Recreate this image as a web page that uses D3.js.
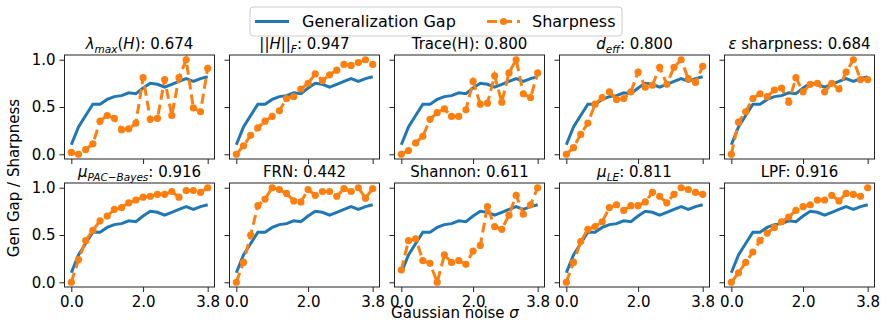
<!DOCTYPE html>
<html lang="en">
<head>
<meta charset="utf-8">
<title>Gen gap vs sharpness</title>
<style>
  body {margin: 0; background: #fff; font-family: "DejaVu Sans", sans-serif;}
  svg  {display: block;}
  .frame {fill: none; stroke: #222; stroke-width: 1;}
  .axis text {font-family: "DejaVu Sans", sans-serif; font-size: 15px; fill: #000;}
  .axis path {display: none;}
  .axis line {stroke: #222;}
  .gap  {fill: none; stroke: #1f77b4; stroke-width: 3;}
  .sharp {fill: none; stroke: #ff7f0e; stroke-width: 3; stroke-dasharray: 10,5;}
  .dot  {fill: #ff7f0e;}
</style>
</head>
<body>
<svg id="chart" width="888" height="330"></svg>

<script src="https://cdn.jsdelivr.net/npm/d3@7"></script>
<script>
// noise levels on the x axis
const noiseLevels = [0.0, 0.2, 0.4, 0.6, 0.8, 1.0, 1.2, 1.4, 1.6, 1.8,
                     2.0, 2.2, 2.4, 2.6, 2.8, 3.0, 3.2, 3.4, 3.6, 3.8];

// generalization gap (same in every panel)
const genGap = [0.10, 0.29, 0.41, 0.53, 0.53, 0.58, 0.61, 0.62, 0.65, 0.64,
                0.70, 0.75, 0.74, 0.71, 0.74, 0.77, 0.80, 0.77, 0.80, 0.82];

// normalised sharpness per measure
const lambdaMax = [0.02, 0.00, 0.05, 0.11, 0.35, 0.41, 0.38, 0.26, 0.27, 0.33,
                   0.81, 0.37, 0.38, 0.79, 0.41, 0.81, 1.00, 0.49, 0.45, 0.91];
const frobenius = [0.00, 0.09, 0.20, 0.28, 0.35, 0.40, 0.46, 0.59, 0.61, 0.69,
                   0.75, 0.85, 0.78, 0.84, 0.89, 0.95, 0.94, 0.97, 1.00, 0.95];
const traceH    = [0.00, 0.04, 0.12, 0.19, 0.37, 0.44, 0.48, 0.40, 0.40, 0.47,
                   0.77, 0.53, 0.54, 0.83, 0.55, 0.86, 1.00, 0.64, 0.60, 0.86];
const dEff      = [0.00, 0.07, 0.21, 0.33, 0.53, 0.60, 0.66, 0.58, 0.59, 0.66,
                   0.87, 0.71, 0.73, 0.92, 0.74, 0.92, 1.00, 0.80, 0.76, 0.93];
const epsSharp  = [0.00, 0.34, 0.45, 0.59, 0.64, 0.61, 0.68, 0.70, 0.55, 0.81,
                   0.66, 0.74, 0.75, 0.66, 0.75, 0.69, 0.87, 1.00, 0.79, 0.79];
const pacBayes  = [0.00, 0.24, 0.44, 0.55, 0.65, 0.70, 0.77, 0.79, 0.84, 0.87,
                   0.90, 0.91, 0.93, 0.93, 0.96, 0.90, 0.97, 0.97, 0.95, 1.00];
const frn       = [0.00, 0.21, 0.50, 0.81, 0.88, 1.00, 0.98, 0.94, 0.86, 0.85,
                   0.98, 0.92, 0.96, 0.96, 0.91, 0.99, 0.96, 1.00, 0.89, 0.99];
const shannon   = [0.13, 0.44, 0.46, 0.23, 0.20, 0.00, 0.29, 0.21, 0.23, 0.19,
                   0.33, 0.39, 0.80, 0.59, 0.56, 0.71, 0.92, 0.72, 0.82, 1.00];
const muLE      = [0.00, 0.21, 0.43, 0.56, 0.59, 0.64, 0.79, 0.82, 0.76, 0.81,
                   0.81, 0.85, 0.95, 0.91, 0.84, 0.93, 1.00, 0.98, 0.95, 0.93];
const lpf       = [0.00, 0.10, 0.21, 0.32, 0.44, 0.52, 0.58, 0.64, 0.69, 0.76,
                   0.80, 0.82, 0.87, 0.87, 0.92, 0.86, 0.94, 0.93, 0.91, 1.00];

const sharpSeries = [lambdaMax, frobenius, traceH, dEff, epsSharp,
                     pacBayes, frn, shannon, muLE, lpf];

// panel titles: [text, style] segments, i = italic, sub = italic subscript
const metricNames = [
  [["λ", "i"], ["max", "sub"], ["(", "n"], ["H", "i"], [")", "n"]],
  [["||", "n"], ["H", "i"], ["||", "n"], ["F", "sub"]],
  [["Trace(H)", "n"]],
  [["d", "i"], ["eff", "sub"]],
  [["ε", "i"], [" sharpness", "n"]],
  [["μ", "i"], ["PAC−Bayes", "sub"]],
  [["FRN", "n"]],
  [["Shannon", "n"]],
  [["μ", "i"], ["LE", "sub"]],
  [["LPF", "n"]]
];
const metricScores = [0.674, 0.947, 0.800, 0.800, 0.684, 0.916, 0.442, 0.611, 0.811, 0.916];

const xTicks = [0.0, 2.0, 3.8];
const yTicks = [0.0, 0.5, 1.0];
const seriesNames = ["Generalization Gap", "Sharpness"];

const svg = d3.select("#chart");
const panelW = 150, panelH = 104;
const colLeft = [64.5, 229.5, 394.5, 559.5, 724.5];
const rowTop = [55, 183];

// matplotlib-like 5% margins
const x = d3.scaleLinear().domain([-0.19, 3.99]).range([0, panelW]);
const y = d3.scaleLinear().domain([-0.05, 1.05]).range([panelH, 0]);
const fmt = d3.format(".1f");

const gapLine = d3.line().x((d, i) => x(noiseLevels[i])).y(d => y(d));

sharpSeries.forEach((vals, k) => {
  const row = Math.floor(k / 5), col = k % 5;
  const g = svg.append("g").attr("transform", `translate(${colLeft[col]},${rowTop[row]})`);

  g.append("g").attr("class", "axis")
    .attr("transform", `translate(0,${panelH})`)
    .call(d3.axisBottom(x).tickValues(xTicks).tickSize(5).tickPadding(4)
      .tickFormat(row === 1 ? fmt : () => ""));
  g.append("g").attr("class", "axis")
    .call(d3.axisLeft(y).tickValues(yTicks).tickSize(5).tickPadding(4)
      .tickFormat(col === 0 ? fmt : () => ""));

  g.append("path").datum(genGap).attr("class", "gap").attr("d", gapLine);
  g.append("path").datum(vals).attr("class", "sharp").attr("d", gapLine);
  g.selectAll("circle").data(vals).join("circle")
    .attr("class", "dot")
    .attr("cx", (d, i) => x(noiseLevels[i]))
    .attr("cy", d => y(d))
    .attr("r", 3.6);

  g.append("rect").attr("class", "frame").attr("width", panelW).attr("height", panelH);

  // title with mathtext-ish subscripts
  const t = g.append("text")
    .attr("x", panelW / 2).attr("y", -6)
    .attr("text-anchor", "middle")
    .attr("font-size", 15);
  let prevSub = false;
  metricNames[k].forEach(([s, st]) => {
    const ts = t.append("tspan").text(s);
    if (st === "i" || st === "sub") ts.attr("font-style", "italic");
    if (st === "sub") {
      ts.attr("font-size", 10.5);
      if (!prevSub) ts.attr("dy", 3.5);
    } else if (prevSub) ts.attr("dy", -3.5);
    prevSub = st === "sub";
  });
  t.append("tspan").attr("dy", prevSub ? -3.5 : 0).text(": " + metricScores[k].toFixed(3));
});

// axis labels
svg.append("text")
  .attr("transform", "translate(19,178) rotate(-90)")
  .attr("text-anchor", "middle").attr("font-size", 15)
  .text("Gen Gap / Sharpness");
svg.append("text")
  .attr("x", 455).attr("y", 318)
  .attr("text-anchor", "middle").attr("font-size", 15)
  .call(t => {
    t.append("tspan").text("Gaussian noise ");
    t.append("tspan").attr("font-style", "italic").text("σ");
  });

// legend
const lg = svg.append("g").attr("transform", "translate(250,7)");
lg.append("rect").attr("width", 372).attr("height", 29).attr("rx", 3)
  .attr("fill", "#fff").attr("fill-opacity", 0.8).attr("stroke", "#ccc");
lg.append("line").attr("x1", 5).attr("x2", 39).attr("y1", 14.5).attr("y2", 14.5)
  .attr("class", "gap");
lg.append("text").attr("x", 52).attr("y", 20).attr("font-size", 16).text(seriesNames[0]);
lg.append("line").attr("x1", 237).attr("x2", 270).attr("y1", 14.5).attr("y2", 14.5)
  .attr("class", "sharp");
lg.append("circle").attr("cx", 253.5).attr("cy", 14.5).attr("r", 3.6).attr("class", "dot");
lg.append("text").attr("x", 282).attr("y", 20).attr("font-size", 16).text(seriesNames[1]);
</script>
</body>
</html>
